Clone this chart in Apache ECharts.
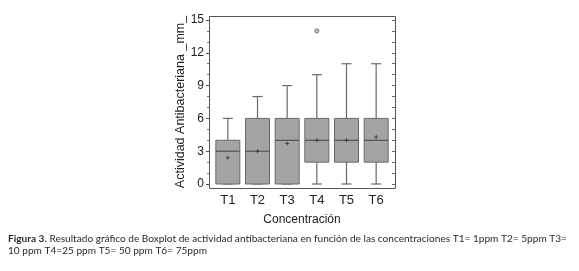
<!DOCTYPE html>
<html><head><meta charset="utf-8">
<script src="https://cdn.jsdelivr.net/npm/echarts@6/dist/echarts.min.js"></script>
<style>html,body{margin:0;padding:0;background:#fff}#c{width:579px;height:271px}</style>
</head><body><div id="c"></div>
<script>
const categories = ['T1','T2','T3','T4','T5','T6'];
const mins    = [0, 0, 0, 0, 0, 0];
const q1s     = [0, 0, 0, 2, 2, 2];
const medians = [3, 3, 4, 4, 4, 4];
const q3s     = [4, 6, 6, 6, 6, 6];
const maxs    = [6, 8, 9, 10, 11, 11];
const means   = [2.4, 3.0, 3.7, 4.0, 4.0, 4.3];
const outliers = [[3, 14]];
const yTicks = [0, 3, 6, 9, 12, 15];

const boxData = categories.map((c, i) => [i, mins[i], q1s[i], medians[i], q3s[i], maxs[i]]);
const chart = echarts.init(document.getElementById('c'));
const BOXW = 24, CAPW = 10;
chart.setOption({
  animation: false,
  grid: {left: 213, right: 188, top: 20, bottom: 87},
  xAxis: {
    type: 'category', data: categories, offset: 4,
    axisLine: {show: false}, axisTick: {show: false},
    axisLabel: {color: '#222', fontSize: 13, fontFamily: 'Liberation Sans', margin: 6},
    name: 'Concentración', nameLocation: 'middle', nameGap: 26,
    nameTextStyle: {color: '#222', fontSize: 12, fontFamily: 'Liberation Sans'}
  },
  yAxis: [{
    type: 'value', min: 0, max: 15, interval: 3, offset: 4,
    axisLine: {show: false}, splitLine: {show: false},
    axisTick: {show: true, inside: false, length: 3, lineStyle: {color: '#555'}},
    minorTick: {show: true, splitNumber: 3, length: 2, lineStyle: {color: '#777'}},
    axisLabel: {color: '#222', fontSize: 12, fontFamily: 'Liberation Sans', margin: 5,
      formatter: v => yTicks.includes(v) ? String(v) : ''},
    name: 'Actividad Antibacteriana _mm_', nameLocation: 'middle', nameGap: 18,
    nameTextStyle: {color: '#222', fontSize: 12.5, fontFamily: 'Liberation Sans'}
  }, {
    type: 'value', min: 0, max: 15, interval: 3, offset: 4, position: 'right',
    axisLine: {show: false}, splitLine: {show: false}, axisLabel: {show: false},
    axisTick: {show: true, inside: true, length: 3, lineStyle: {color: '#666'}},
    minorTick: {show: true, splitNumber: 3, length: 3, lineStyle: {color: '#666'}}
  }],
  series: [{
    type: 'custom', data: boxData, encode: {x: 0, y: [1,2,3,4,5]},
    renderItem: function (params, api) {
      const x = api.coord([api.value(0), 0])[0];
      const yMin = api.coord([api.value(0), api.value(1)])[1];
      const yQ1 = api.coord([api.value(0), api.value(2)])[1];
      const yMed = api.coord([api.value(0), api.value(3)])[1];
      const yQ3 = api.coord([api.value(0), api.value(4)])[1];
      const yMax = api.coord([api.value(0), api.value(5)])[1];
      const ls = {stroke: '#6a6a6a', lineWidth: 1.2};
      return {type: 'group', children: [
        {type: 'line', shape: {x1: x, y1: yMax, x2: x, y2: yQ3}, style: ls},
        {type: 'line', shape: {x1: x, y1: yQ1, x2: x, y2: yMin}, style: ls},
        {type: 'line', shape: {x1: x - CAPW/2, y1: yMax, x2: x + CAPW/2, y2: yMax}, style: ls},
        {type: 'line', shape: {x1: x - CAPW/2, y1: yMin, x2: x + CAPW/2, y2: yMin}, style: ls},
        {type: 'rect', shape: {x: x - BOXW/2, y: yQ3, width: BOXW, height: yQ1 - yQ3},
          style: {fill: '#a4a4a4', stroke: '#6a6a6a', lineWidth: 1}},
        {type: 'line', shape: {x1: x - BOXW/2, y1: yMed, x2: x + BOXW/2, y2: yMed}, style: {stroke: '#444', lineWidth: 1}}
      ]};
    }
  }, {
    type: 'scatter', data: means.map((m, i) => [i, m]),
    symbol: 'path://M0,-1H0V1M-1,0H1', symbolSize: 4, itemStyle: {color: 'none', borderColor: '#333', borderWidth: 1}
  }, {
    type: 'scatter', data: outliers, symbol: 'circle', symbolSize: 4,
    itemStyle: {color: '#bbb', borderColor: '#555', borderWidth: 1}
  }],
  graphic: [
    {type: 'rect', shape: {x: 209.5, y: 16.5, width: 186, height: 172}, style: {fill: 'none', stroke: '#555', lineWidth: 1}, silent: true},
    {type: 'text', left: 8, top: 233, style: {
      text: '{b|Figura 3.} Resultado gráfico de Boxplot de actividad antibacteriana en función de las concentraciones T1= 1ppm T2= 5ppm T3=\n10 ppm T4=25 ppm T5= 50 ppm T6= 75ppm',
      fontFamily: 'Lato', fontSize: 10.1, fill: '#2a2a2a', lineHeight: 11.5,
      rich: {b: {fontWeight: 'bold', fontFamily: 'Lato', fontSize: 10.1, fill: '#2a2a2a'}}
    }}
  ]
});
</script></body></html>
